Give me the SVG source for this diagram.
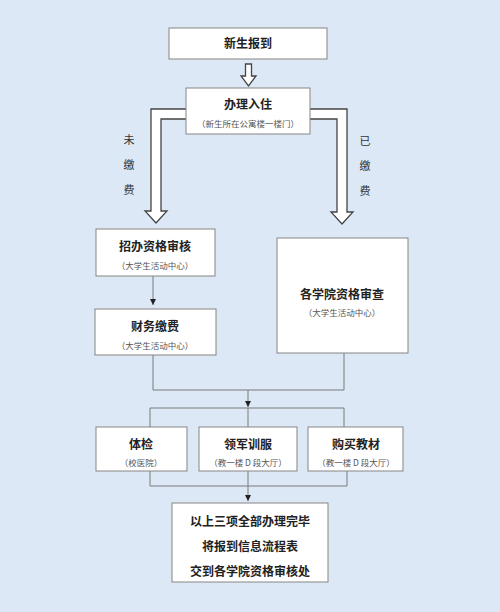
<svg xmlns="http://www.w3.org/2000/svg" width="500" height="612" viewBox="0 0 500 612">
<defs>
<style>
.bg{fill:#dce8f5}
.box{fill:#fff;stroke:#858585;stroke-width:1}
.t{font-family:"Noto Sans CJK SC","Noto Sans",sans-serif;font-size:12px;font-weight:bold;fill:#222;text-anchor:middle}
.s{font-family:"Noto Sans CJK SC","Noto Sans",sans-serif;font-size:8.5px;fill:#555;text-anchor:middle}
.l{font-family:"Noto Sans CJK SC","Noto Sans",sans-serif;font-size:11px;fill:#333;text-anchor:middle}
.hollow{fill:#fff;stroke:#444;stroke-width:1.3;stroke-linejoin:miter}
.ln{fill:none;stroke:#7a7a7a;stroke-width:1}
</style>
<marker id="ah" viewBox="0 0 8 8" refX="8" refY="4" markerWidth="6" markerHeight="6" markerUnits="userSpaceOnUse" orient="auto">
<path d="M0,0 L8,4 L0,8 Z" fill="#222"/>
</marker>
</defs>
<rect class="bg" x="0" y="0" width="500" height="612"/>
<g id="connectors">
<path class="hollow" d="M245.5,64 L251.5,64 L251.5,76 L256,76 L248.5,86 L241,76 L245.5,76 Z"/>
<path class="hollow" d="M186,109 L151,109 L151,211 L145,211 L156,223 L167,211 L161,211 L161,119 L186,119"/>
<path class="hollow" d="M310,109 L347,109 L347,212 L353,212 L342,224 L331,212 L337,212 L337,119 L310,119"/>
<path class="ln" d="M153,276 L153,305" marker-end="url(#ah)"/>
<path class="ln" d="M153,355 L153,390 L344,390 L344,353"/>
<path class="ln" d="M248,390 L248,407" marker-end="url(#ah)"/>
<path class="ln" d="M150,427 L150,408 L344,408 L344,427"/>
<path class="ln" d="M248,408 L248,427"/>
<path class="ln" d="M150,471 L150,486 L347,486 L347,471"/>
<path class="ln" d="M248,471 L248,501" marker-end="url(#ah)"/>
</g>
<g id="labels">
<text class="l" x="129" y="144">未</text>
<text class="l" x="129" y="169">缴</text>
<text class="l" x="129" y="194">费</text>
<text class="l" x="365" y="145">已</text>
<text class="l" x="365" y="170">缴</text>
<text class="l" x="365" y="195">费</text>
</g>
<g id="n-report">
<rect class="box" x="169" y="28" width="158" height="31"/>
<text class="t" x="248" y="48">新生报到</text>
</g>
<g id="n-checkin">
<rect class="box" x="186" y="88" width="124" height="46"/>
<text class="t" x="248" y="109">办理入住</text>
<text class="s" x="248" y="127">（新生所在公寓楼一楼门）</text>
</g>
<g id="n-zhaoban">
<rect class="box" x="96" y="229" width="119" height="47"/>
<text class="t" x="155" y="251">招办资格审核</text>
<text class="s" x="155" y="269">（大学生活动中心）</text>
</g>
<g id="n-college">
<rect class="box" x="277" y="238" width="131" height="115"/>
<text class="t" x="342" y="299">各学院资格审查</text>
<text class="s" x="342" y="316">（大学生活动中心）</text>
</g>
<g id="n-finance">
<rect class="box" x="95" y="309" width="121" height="46"/>
<text class="t" x="155" y="331">财务缴费</text>
<text class="s" x="155" y="349">（大学生活动中心）</text>
</g>
<g id="n-physical">
<rect class="box" x="96" y="427" width="91" height="44"/>
<text class="t" x="141" y="449">体检</text>
<text class="s" x="141" y="466">（校医院）</text>
</g>
<g id="n-uniform">
<rect class="box" x="199" y="427" width="98" height="44"/>
<text class="t" x="248" y="449">领军训服</text>
<text class="s" x="248" y="466">（教一楼 D 段大厅）</text>
</g>
<g id="n-books">
<rect class="box" x="308" y="427" width="95" height="44"/>
<text class="t" x="356" y="449">购买教材</text>
<text class="s" x="356" y="466">（教一楼 D 段大厅）</text>
</g>
<g id="n-final">
<rect class="box" x="172" y="503" width="156" height="79"/>
<text class="t" x="250" y="526">以上三项全部办理完毕</text>
<text class="t" x="250" y="551">将报到信息流程表</text>
<text class="t" x="250" y="576">交到各学院资格审核处</text>
</g>
</svg>
